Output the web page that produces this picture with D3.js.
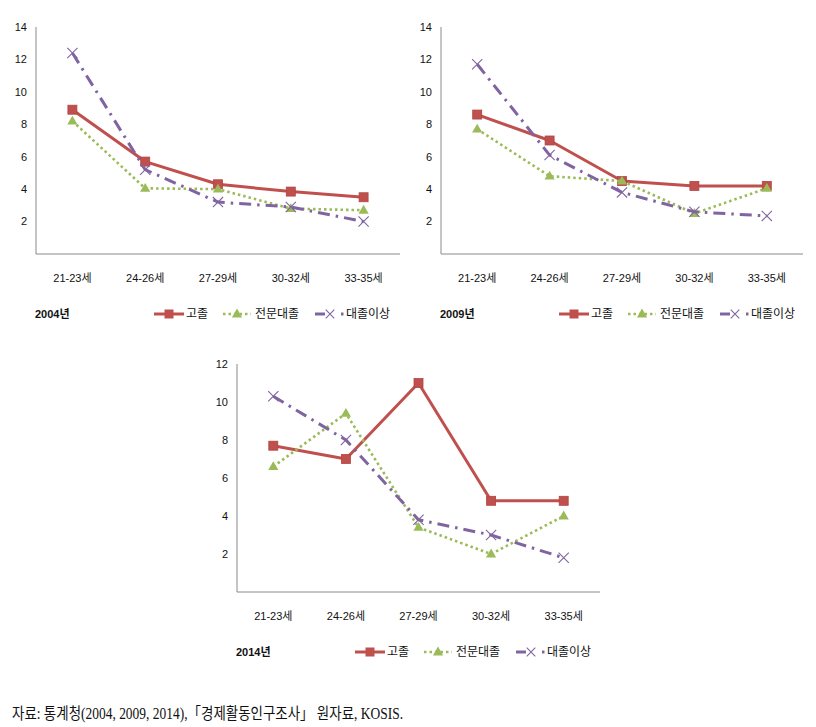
<!DOCTYPE html>
<html>
<head>
<meta charset="utf-8">
<script src="https://cdn.jsdelivr.net/npm/d3@7/dist/d3.min.js"></script>
<style>
  html, body { margin: 0; padding: 0; background: #fff; }
  svg { display: block; }
  .lbl { font-family: "Liberation Sans", "Noto Sans CJK KR", sans-serif; fill: #111; }
  .src { font-family: "Liberation Serif", "DejaVu Serif", "Noto Sans CJK KR", serif; fill: #111; }
</style>
</head>
<body>
<svg id="chart" width="816" height="727"></svg>
<script>
// ---- data ----
const categories = ["21-23세", "24-26세", "27-29세", "30-32세", "33-35세"];
const seriesNames = ["고졸", "전문대졸", "대졸이상"];
const years = ["2004년", "2009년", "2014년"];

const values2004_high = [8.9, 5.7, 4.3, 3.85, 3.5];
const values2004_college = [8.2, 4.05, 4.0, 2.8, 2.7];
const values2004_univ = [12.4, 5.2, 3.2, 2.9, 2.0];

const values2009_high = [8.6, 7.0, 4.5, 4.2, 4.2];
const values2009_college = [7.7, 4.8, 4.5, 2.5, 4.05];
const values2009_univ = [11.7, 6.1, 3.8, 2.6, 2.35];

const values2014_high = [7.7, 7.0, 11.0, 4.8, 4.8];
const values2014_college = [6.6, 9.4, 3.4, 2.0, 4.0];
const values2014_univ = [10.3, 8.0, 3.8, 3.0, 1.8];

const yTicks2004 = [2, 4, 6, 8, 10, 12, 14];
const yTicks2009 = [2, 4, 6, 8, 10, 12, 14];
const yTicks2014 = [2, 4, 6, 8, 10, 12];

const sourceText = "자료: 통계청(2004, 2009, 2014),「경제활동인구조사」 원자료, KOSIS.";

// ---- styles ----
const colors = ["#C0504D", "#9BBB59", "#8064A2"];
const svg = d3.select("#chart");

function drawChart(cfg) {
  const g = svg.append("g");
  const x = d3.scalePoint().domain(categories).range([cfg.left, cfg.right]).padding(0.5);
  const y = d3.scaleLinear().domain([0, d3.max(cfg.ticks)]).range([cfg.bottom, cfg.top]);

  // axes lines
  g.append("line").attr("x1", cfg.left).attr("x2", cfg.left).attr("y1", y(d3.max(cfg.ticks))).attr("y2", cfg.bottom)
    .attr("stroke", "#8a8a8a").attr("stroke-width", 1);
  g.append("line").attr("x1", cfg.left).attr("x2", cfg.right).attr("y1", cfg.bottom).attr("y2", cfg.bottom)
    .attr("stroke", "#8a8a8a").attr("stroke-width", 1);

  // y tick labels
  g.selectAll(".yt").data(cfg.ticks).enter().append("text")
    .attr("class", "lbl").attr("x", cfg.left - 9).attr("y", d => y(d)).attr("dy", "0.35em")
    .attr("text-anchor", "end").attr("font-size", 11).text(d => d);

  // x labels
  g.selectAll(".xt").data(categories).enter().append("text")
    .attr("class", "lbl").attr("x", d => x(d)).attr("y", cfg.bottom + 24).attr("dy", "0.35em")
    .attr("text-anchor", "middle").attr("font-size", 11).text(d => d);

  const line = d3.line().x((d, i) => x(categories[i])).y(d => y(d));

  // series 0: solid red with squares
  g.append("path").datum(cfg.series[0]).attr("d", line).attr("fill", "none")
    .attr("stroke", colors[0]).attr("stroke-width", 3).attr("stroke-linejoin", "round");
  g.selectAll(".sq").data(cfg.series[0]).enter().append("rect")
    .attr("x", (d, i) => x(categories[i]) - 4.5).attr("y", d => y(d) - 4.5)
    .attr("width", 9).attr("height", 9).attr("fill", colors[0]).attr("stroke", "#b04542").attr("stroke-width", 0.8);

  // series 1: dotted green with triangles
  g.append("path").datum(cfg.series[1]).attr("d", line).attr("fill", "none")
    .attr("stroke", colors[1]).attr("stroke-width", 2.6).attr("stroke-dasharray", "2.5,3");
  const tri = d3.symbol().type(d3.symbolTriangle).size(45);
  g.selectAll(".tr").data(cfg.series[1]).enter().append("path")
    .attr("d", tri).attr("transform", (d, i) => `translate(${x(categories[i])},${y(d) + 0.5})`)
    .attr("fill", colors[1]);

  // series 2: dash-dot purple with x markers
  g.append("path").datum(cfg.series[2]).attr("d", line).attr("fill", "none")
    .attr("stroke", colors[2]).attr("stroke-width", 3).attr("stroke-dasharray", "12,6,2.5,6");
  const cross = d3.symbol().type(d3.symbolX).size(70);
  g.selectAll(".xm").data(cfg.series[2]).enter().append("path")
    .attr("d", cross).attr("transform", (d, i) => `translate(${x(categories[i])},${y(d)})`)
    .attr("fill", "none").attr("stroke", colors[2]).attr("stroke-width", 1.1);

  // legend & year label
  const ly = cfg.bottom + 60;
  const L = cfg.left;
  g.append("text").attr("class", "lbl").attr("x", L - 1).attr("y", ly).attr("dy", "0.35em")
    .attr("font-size", 11).attr("font-weight", "bold").text(cfg.year);

  // 고졸
  g.append("line").attr("x1", L + 118).attr("x2", L + 148).attr("y1", ly).attr("y2", ly)
    .attr("stroke", colors[0]).attr("stroke-width", 3);
  g.append("rect").attr("x", L + 133 - 4.5).attr("y", ly - 4.5).attr("width", 9).attr("height", 9)
    .attr("fill", colors[0]);
  g.append("text").attr("class", "lbl").attr("x", L + 150).attr("y", ly).attr("dy", "0.35em")
    .attr("font-size", 12).text(seriesNames[0]);

  // 전문대졸
  g.append("line").attr("x1", L + 187).attr("x2", L + 215).attr("y1", ly).attr("y2", ly)
    .attr("stroke", colors[1]).attr("stroke-width", 2.6).attr("stroke-dasharray", "2.5,3");
  g.append("path").attr("d", tri).attr("transform", `translate(${L + 201},${ly + 0.5})`).attr("fill", colors[1]);
  g.append("text").attr("class", "lbl").attr("x", L + 219).attr("y", ly).attr("dy", "0.35em")
    .attr("font-size", 12).text(seriesNames[1]);

  // 대졸이상
  g.append("line").attr("x1", L + 279).attr("x2", L + 289).attr("y1", ly).attr("y2", ly)
    .attr("stroke", colors[2]).attr("stroke-width", 3);
  g.append("path").attr("d", d3.symbol().type(d3.symbolX).size(50)).attr("transform", `translate(${L + 294},${ly})`)
    .attr("fill", "none").attr("stroke", colors[2]).attr("stroke-width", 1.1);
  g.append("line").attr("x1", L + 305).attr("x2", L + 307.5).attr("y1", ly).attr("y2", ly)
    .attr("stroke", colors[2]).attr("stroke-width", 3);
  g.append("text").attr("class", "lbl").attr("x", L + 310).attr("y", ly).attr("dy", "0.35em")
    .attr("font-size", 12).text(seriesNames[2]);
}

drawChart({ left: 36, right: 400, top: 27, bottom: 254, ticks: yTicks2004, year: years[0],
  series: [values2004_high, values2004_college, values2004_univ] });
drawChart({ left: 441, right: 803, top: 27, bottom: 254, ticks: yTicks2009, year: years[1],
  series: [values2009_high, values2009_college, values2009_univ] });
drawChart({ left: 237, right: 600, top: 364, bottom: 592, ticks: yTicks2014, year: years[2],
  series: [values2014_high, values2014_college, values2014_univ] });

svg.append("text").attr("class", "src").attr("x", 12).attr("y", 713).attr("dy", "0.35em")
  .attr("font-size", 16).attr("textLength", 391).attr("lengthAdjust", "spacingAndGlyphs")
  .text(sourceText);
</script>
</body>
</html>
